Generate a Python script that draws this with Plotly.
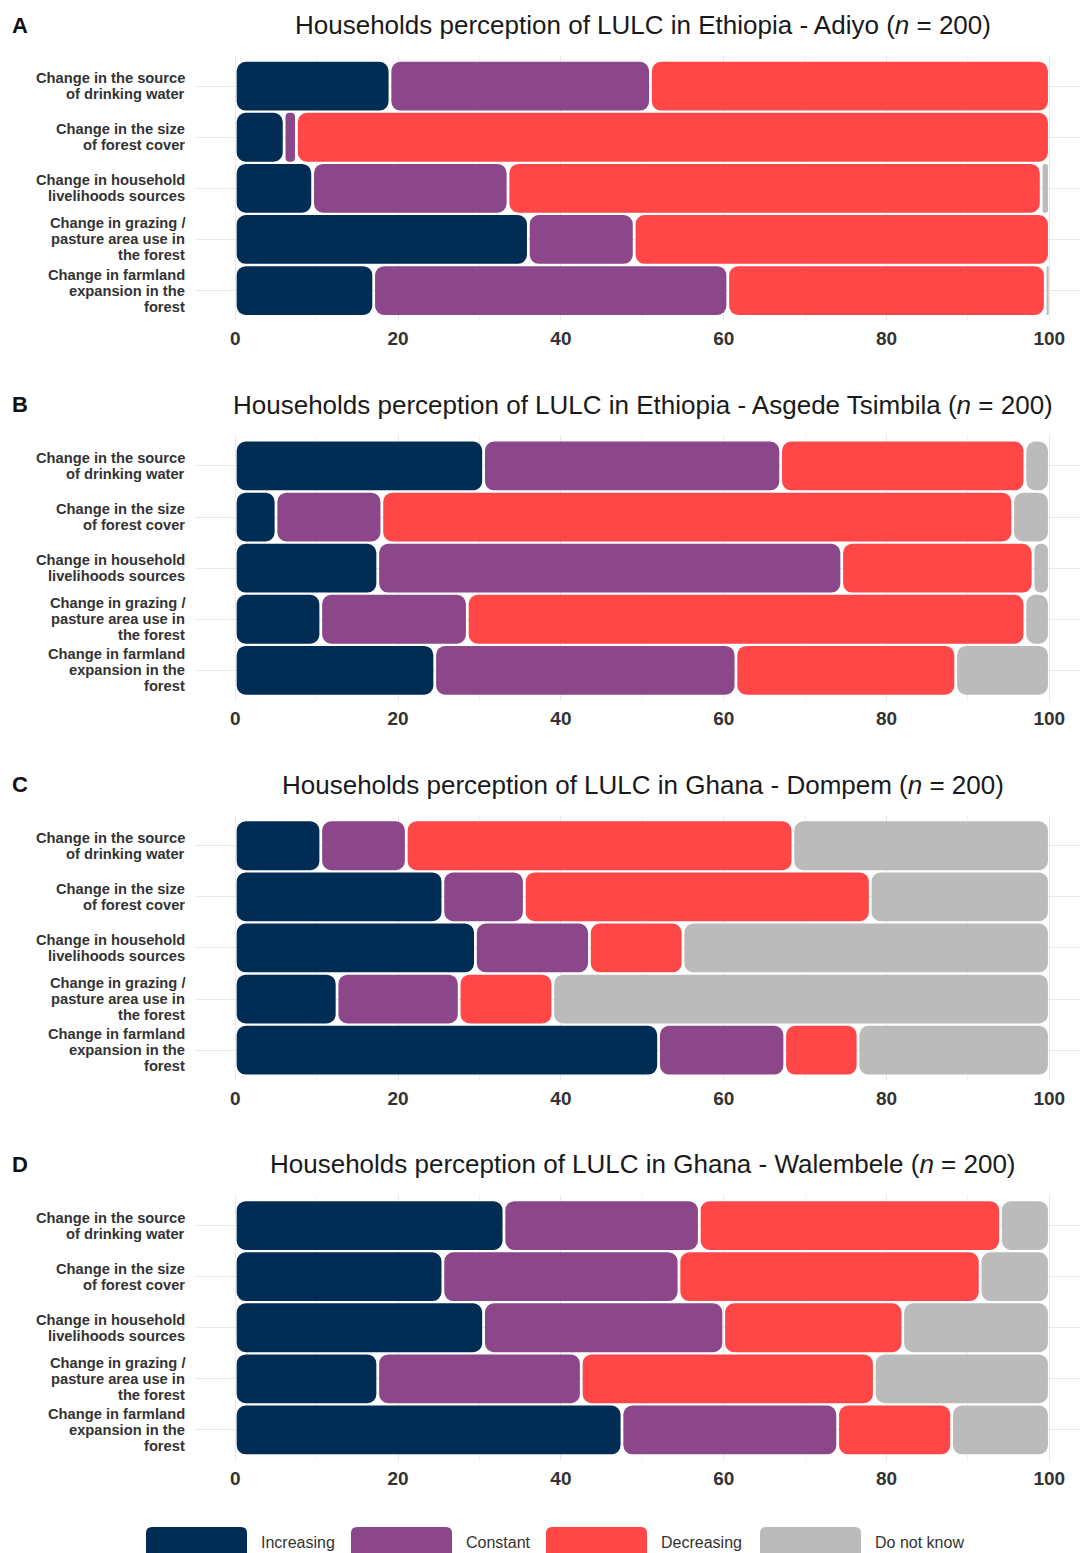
import plotly.graph_objects as go

# ---------------- data ----------------
row_labels = [
    "Change in the source<br>of drinking water",
    "Change in the size<br>of forest cover",
    "Change in household<br>livelihoods sources",
    "Change in grazing /<br>pasture area use in<br>the forest",
    "Change in farmland<br>expansion in the<br>forest",
]
categories = ["Increasing", "Constant", "Decreasing", "Do not know"]
colors = ["#012c54", "#8b4789", "#ff4747", "#bbbbbb"]

panel_letters = ["A", "B", "C", "D"]
panel_titles = [
    "Households perception of LULC in Ethiopia - Adiyo (<i>n</i> = 200)",
    "Households perception of LULC in Ethiopia - Asgede Tsimbila (<i>n</i> = 200)",
    "Households perception of LULC in Ghana - Dompem (<i>n</i> = 200)",
    "Households perception of LULC in Ghana - Walembele (<i>n</i> = 200)",
]

# percentages per panel, per category, in row order
adiyo_increasing = [19, 6, 9.5, 36, 17]
adiyo_constant = [32, 1.5, 24, 13, 43.5]
adiyo_decreasing = [49, 92.5, 65.5, 51, 39]
adiyo_dontknow = [0, 0, 1, 0, 0.5]

asgede_increasing = [30.5, 5, 17.5, 10.5, 24.5]
asgede_constant = [36.5, 13, 57, 18, 37]
asgede_decreasing = [30, 77.5, 23.5, 68.5, 27]
asgede_dontknow = [3, 4.5, 2, 3, 11.5]

dompem_increasing = [10.5, 25.5, 29.5, 12.5, 52]
dompem_constant = [10.5, 10, 14, 15, 15.5]
dompem_decreasing = [47.5, 42.5, 11.5, 11.5, 9]
dompem_dontknow = [31.5, 22, 45, 61, 23.5]

walembele_increasing = [33, 25.5, 30.5, 17.5, 47.5]
walembele_constant = [24, 29, 29.5, 25, 26.5]
walembele_decreasing = [37, 37, 22, 36, 14]
walembele_dontknow = [6, 8.5, 18, 21.5, 12]

x_ticks = [0, 20, 40, 60, 80, 100]

panels = [
    [adiyo_increasing, adiyo_constant, adiyo_decreasing, adiyo_dontknow],
    [asgede_increasing, asgede_constant, asgede_decreasing, asgede_dontknow],
    [dompem_increasing, dompem_constant, dompem_decreasing, dompem_dontknow],
    [walembele_increasing, walembele_constant, walembele_decreasing, walembele_dontknow],
]

# ---------------- layout constants ----------------
W, H = 1080, 1553
GAP = 0.17          # half gap between segments (data units)
RADIUS = 9          # px corner radius
BAR_W = 0.955
panel_top0 = 55.5
panel_pitch = 379.8
panel_h = 265.7
x_left_px = 194.6
x_range = [-5, 103.77]
LABEL_LINE_PX = 16

FONT = "Liberation Sans, Arial, sans-serif"
TXT = "#333333"

fig = go.Figure()
layout = dict(
    width=W, height=H,
    margin=dict(l=0, r=0, t=0, b=0),
    paper_bgcolor="white", plot_bgcolor="white",
    barmode="overlay",
    showlegend=False,
    font=dict(family=FONT, color=TXT),
    annotations=[], shapes=[],
)

for k, vals in enumerate(panels):
    ax = "" if k == 0 else str(k + 1)
    xa, ya = "x" + ax, "y" + ax
    starts = [[0.0] * len(row_labels) for _ in categories]
    ends = [[0.0] * len(row_labels) for _ in categories]
    for r in range(len(row_labels)):
        acc = 0.0
        for c in range(len(categories)):
            starts[c][r] = acc
            acc += vals[c][r]
            ends[c][r] = acc
    for c, cat in enumerate(categories):
        lengths = [(e - s - 2 * GAP) if (e - s - 2 * GAP) > 0 else None
                   for s, e in zip(starts[c], ends[c])]
        fig.add_trace(go.Bar(
            y=row_labels,
            x=lengths,
            base=[s + GAP for s in starts[c]],
            orientation="h",
            width=BAR_W,
            name=cat,
            marker=dict(color=colors[c], line=dict(width=0), cornerradius=RADIUS),
            xaxis=xa, yaxis=ya,
            hovertemplate=cat + ": %{customdata}%<extra></extra>",
            customdata=vals[c],
        ))
    top_px = panel_top0 + panel_pitch * k
    bot_px = top_px + panel_h
    layout["xaxis" + ax] = dict(
        domain=[x_left_px / W, 1.0],
        range=x_range,
        anchor=ya,
        tickvals=x_ticks,
        showgrid=True, gridcolor="#e8e8e8", gridwidth=1,
        minor=dict(dtick=10, tick0=0, showgrid=True, gridcolor="#f1f1f1", gridwidth=1),
        zeroline=False, showline=False, ticks="",
        tickfont=dict(family=FONT, size=19, color=TXT, weight="bold"),
        ticklabelstandoff=4,
        fixedrange=True,
    )
    layout["yaxis" + ax] = dict(
        domain=[1 - bot_px / H, 1 - top_px / H],
        anchor=xa,
        type="category",
        categoryorder="array", categoryarray=row_labels,
        range=[len(row_labels) - 0.4, -0.6],
        showgrid=True, gridcolor="#e8e8e8", gridwidth=1,
        zeroline=False, showline=False, ticks="",
        showticklabels=False,
        fixedrange=True,
    )
    # category labels, one text line at a time for tight line spacing
    for lab in row_labels:
        lines = lab.split("<br>")
        n = len(lines)
        for j, line in enumerate(lines):
            layout["annotations"].append(dict(
                text="<b>" + line + "</b>", xref="paper", yref=ya,
                x=187 / W, y=lab, xanchor="right", yanchor="middle",
                yshift=((n - 1) / 2 - j) * LABEL_LINE_PX,
                showarrow=False,
                font=dict(family=FONT, size=14.7, color=TXT),
            ))
    title_y = 1 - (25 + panel_pitch * k) / H
    layout["annotations"].append(dict(
        text=panel_titles[k], xref="paper", yref="paper",
        x=642.5 / W, y=title_y, xanchor="center", yanchor="middle",
        showarrow=False, font=dict(family=FONT, size=26, color="#1a1a1a"),
    ))
    layout["annotations"].append(dict(
        text="<b>" + panel_letters[k] + "</b>", xref="paper", yref="paper",
        x=10 / W, y=title_y, xanchor="left", yanchor="middle",
        showarrow=False, font=dict(family=FONT, size=22, color="#111111"),
    ))

# ---------------- legend (keys + labels) ----------------
leg_key_x = [146, 351, 546, 760]
key_w = 101
key_top_px, key_bot_px = 1527, 1562
rx, ry = 6 / W, 6 / H
for c, cat in enumerate(categories):
    x0 = leg_key_x[c] / W
    x1 = (leg_key_x[c] + key_w) / W
    y1 = 1 - key_top_px / H
    y0 = 1 - key_bot_px / H
    path = (f"M {x0+rx},{y0} L {x1-rx},{y0} Q {x1},{y0} {x1},{y0+ry} "
            f"L {x1},{y1-ry} Q {x1},{y1} {x1-rx},{y1} L {x0+rx},{y1} "
            f"Q {x0},{y1} {x0},{y1-ry} L {x0},{y0+ry} Q {x0},{y0} {x0+rx},{y0} Z")
    layout["shapes"].append(dict(type="path", path=path, xref="paper", yref="paper",
                                 fillcolor=colors[c], line=dict(width=0)))
    layout["annotations"].append(dict(
        text=cat, xref="paper", yref="paper",
        x=(leg_key_x[c] + key_w + 12) / W, y=1 - 1542 / H,
        xanchor="left", yanchor="middle", showarrow=False,
        font=dict(family=FONT, size=16, color=TXT),
    ))

fig.update_layout(**layout)
fig.write_html("out.html", config={"displayModeBar": False},
               post_script="document.body.style.margin='0';")
